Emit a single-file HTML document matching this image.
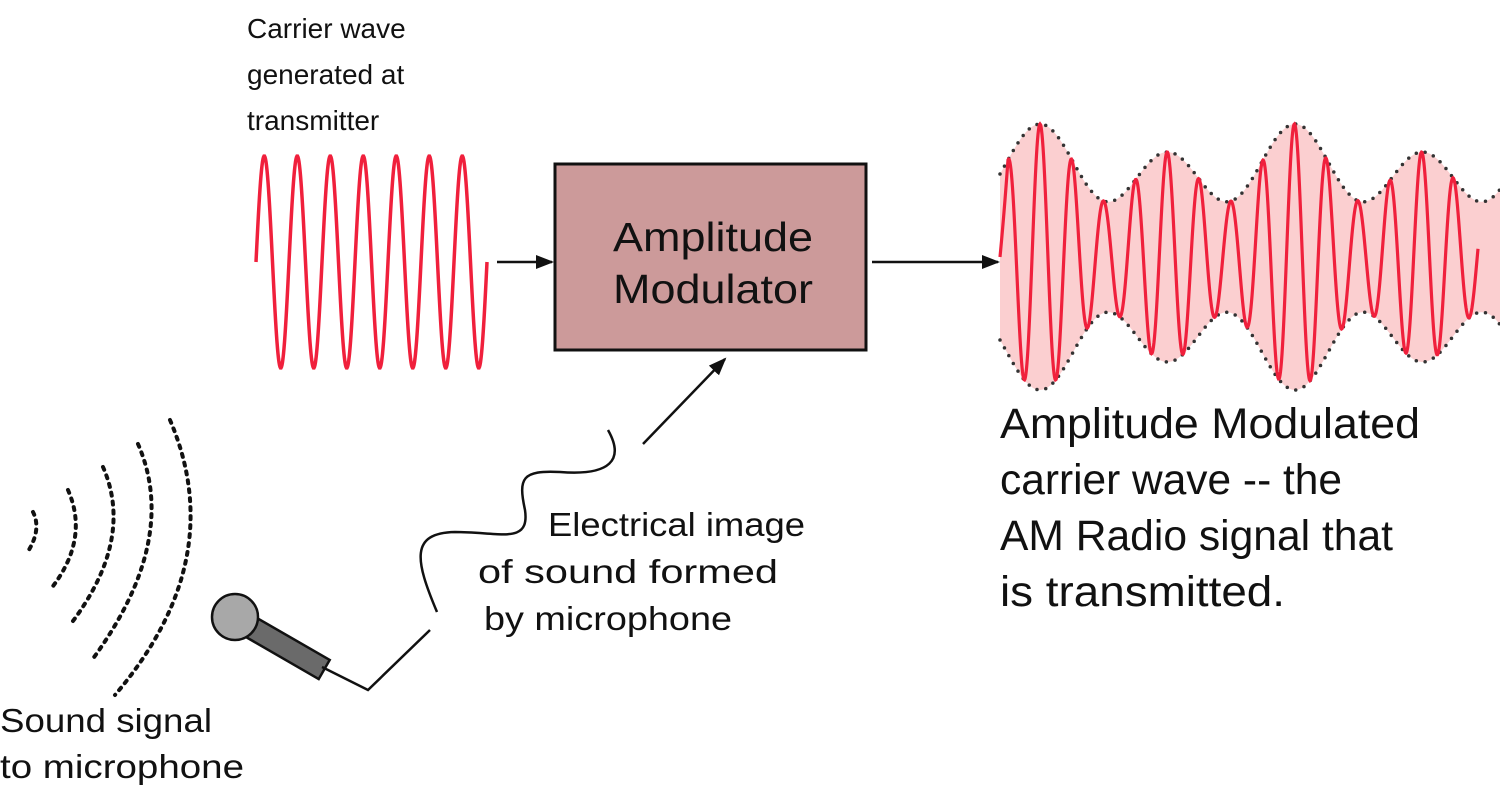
<!DOCTYPE html>
<html><head><meta charset="utf-8"><style>
html,body{margin:0;padding:0;background:#fff;}
svg{display:block}
text{font-family:"Liberation Sans",sans-serif;fill:#111;}
</style></head><body>
<svg id="s" width="1500" height="800" viewBox="0 0 1500 800" xmlns="http://www.w3.org/2000/svg">
<defs>
<marker id="ah2" markerWidth="18" markerHeight="18" refX="16" refY="9" orient="auto" markerUnits="userSpaceOnUse" viewBox="0 0 18 18">
<path d="M0,2 L18,9 L0,16 Z" fill="#111"/></marker>
</defs>
<text x="247" y="38" font-size="28">Carrier wave</text>
<text x="247" y="84" font-size="28">generated at</text>
<text x="247" y="130" font-size="28">transmitter</text>

<text x="1000" y="438" font-size="43" textLength="420" lengthAdjust="spacingAndGlyphs">Amplitude Modulated</text>
<text x="1000" y="494" font-size="43" textLength="342" lengthAdjust="spacingAndGlyphs">carrier wave -- the</text>
<text x="1000" y="550" font-size="43" textLength="393" lengthAdjust="spacingAndGlyphs">AM Radio signal that</text>
<text x="1000" y="606" font-size="43" textLength="285" lengthAdjust="spacingAndGlyphs">is transmitted.</text>

<text x="548" y="536" font-size="33" textLength="257" lengthAdjust="spacingAndGlyphs">Electrical image</text>
<text x="478" y="583" font-size="33" textLength="300" lengthAdjust="spacingAndGlyphs">of sound formed</text>
<text x="484" y="630" font-size="33" textLength="248" lengthAdjust="spacingAndGlyphs">by microphone</text>

<text x="0" y="732" font-size="33" textLength="212" lengthAdjust="spacingAndGlyphs">Sound signal</text>
<text x="0" y="778" font-size="33" textLength="244" lengthAdjust="spacingAndGlyphs">to microphone</text>

<rect x="555" y="164" width="311" height="186" fill="#cc9a9a" stroke="#111" stroke-width="3"/>
<text x="713" y="251" font-size="41" text-anchor="middle" textLength="200" lengthAdjust="spacingAndGlyphs">Amplitude</text>
<text x="713" y="303" font-size="41" text-anchor="middle" textLength="200" lengthAdjust="spacingAndGlyphs">Modulator</text>

<line x1="497" y1="262" x2="552" y2="262" stroke="#111" stroke-width="2.5" marker-end="url(#ah2)"/>
<line x1="872" y1="262" x2="998" y2="262" stroke="#111" stroke-width="2.5" marker-end="url(#ah2)"/>
<line x1="643" y1="444" x2="725" y2="359" stroke="#111" stroke-width="2.5" marker-end="url(#ah2)"/>

<g id="waves"></g>

<g fill="none" stroke="#111" stroke-width="4" stroke-dasharray="3,6" stroke-linecap="round">
<path d="M33,512 Q42,530 27,553"/>
<path d="M68,490 Q90,540 50,590"/>
<path d="M103,467 Q135,540 70,625"/>
<path d="M138,444 Q180,540 92,660"/>
<path d="M170,420 Q230,560 115,695"/>
</g>

<g transform="rotate(30 235 618)">
<rect x="240" y="607" width="98" height="22" fill="#6a6a6a" stroke="#111" stroke-width="2.5"/>
</g>
<circle cx="235" cy="617" r="23" fill="#a8a8a8" stroke="#111" stroke-width="2.5"/>
<polyline points="322,667 368,690 430,630" fill="none" stroke="#111" stroke-width="2.5"/>
<path d="M437,612 C415,560 410,533 455,532 C500,532 530,545 525,510 C518,478 522,470 560,472 C610,476 625,460 608,430" fill="none" stroke="#111" stroke-width="2.5"/>
</svg>
<script>
(function(){
var ns="http://www.w3.org/2000/svg",g=document.getElementById('waves');
function el(n,a){var e=document.createElementNS(ns,n);for(var k in a)e.setAttribute(k,a[k]);g.appendChild(e);return e;}
var d="";for(var x=256;x<=487;x+=0.5){var y=262-106*Math.sin(2*Math.PI*(x-256)/33);d+=(x==256?"M":"L")+x.toFixed(1)+","+y.toFixed(1);}
el('path',{d:d,fill:'none',stroke:'#f0203c','stroke-width':3.5});
var c=257;function A(x){var u=x-1040;return 87.5+14*Math.cos(2*Math.PI*u/255)+31.5*Math.cos(4*Math.PI*u/255);}
var top="",bot="";for(var x=1000;x<=1500;x+=2){top+=(x==1000?"M":"L")+x+","+(c-A(x)).toFixed(1);}
for(var x=1500;x>=1000;x-=2){bot+="L"+x+","+(c+A(x)).toFixed(1);}
el('path',{d:top+bot+"Z",fill:'#fbcfd0',stroke:'none'});
var t="",b="";for(var x=1000;x<=1500;x+=2){t+=(x==1000?"M":"L")+x+","+(c-A(x)).toFixed(1);b+=(x==1000?"M":"L")+x+","+(c+A(x)).toFixed(1);}
el('path',{d:t,fill:'none',stroke:'#333','stroke-width':3.5,'stroke-dasharray':'0,9','stroke-linecap':'round'});
el('path',{d:b,fill:'none',stroke:'#333','stroke-width':3.5,'stroke-dasharray':'0,9','stroke-linecap':'round'});
var w="";var P=31.8;for(var x=1000;x<=1478;x+=0.5){var y=c-A(x)*Math.cos(2*Math.PI*(x-1040)/P);if(x<1008)y=c-(x-1000)/8*(A(x)*Math.cos(2*Math.PI*(1008-1040)/P));w+=(x==1000?"M":"L")+x.toFixed(1)+","+y.toFixed(1);}
el('path',{d:w,fill:'none',stroke:'#f0203c','stroke-width':3.2});
})();
</script>
</body></html>
